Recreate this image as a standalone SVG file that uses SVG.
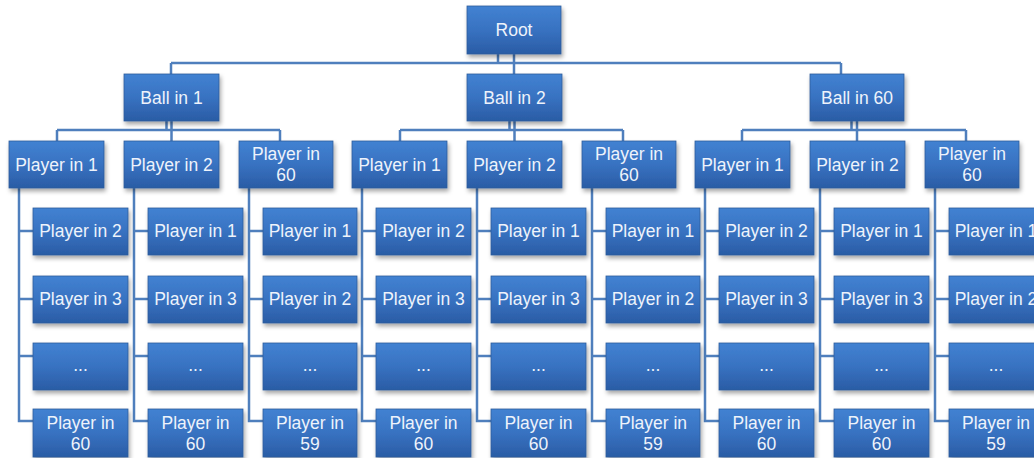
<svg xmlns="http://www.w3.org/2000/svg" width="1034" height="458" viewBox="0 0 1034 458">
<defs>
<linearGradient id="g" x1="0" y1="0" x2="0" y2="1">
<stop offset="0" stop-color="#4282d2"/>
<stop offset="0.5" stop-color="#3872c1"/>
<stop offset="1" stop-color="#2a5ca5"/>
</linearGradient>
<filter id="sh" x="-10%" y="-10%" width="125%" height="135%">
<feDropShadow dx="1.5" dy="3" stdDeviation="2" flood-color="#000" flood-opacity="0.35"/>
</filter>
</defs>
<style>
.b{fill:url(#g);stroke:#2d5c9c;stroke-width:0.8;filter:url(#sh)}
.t{font-family:"Liberation Sans",Arial,sans-serif;font-size:17.5px;fill:#eef3fb;text-anchor:middle}
.c{stroke:#4f7fbd;stroke-width:2.5;fill:none}
</style>
<rect width="1034" height="458" fill="#fff"/>
<g id="connectors" class="c">
<path d="M498 54V63M514 54V74M171 63H841M171 63V74M841 63V74"/>
<path d="M166.5 121V130M171.5 121V141M57 130H280M57 130V141M280 130V141"/>
<path d="M509.5 121V130M514.5 121V141M400 130H623M400 130V141M623 130V141"/>
<path d="M851.5 121V130M857 121V141M742 130H966M742 130V141M966 130V141"/>
<path d="M19 188V421H33M19 231H33M19 299H33M19 356H33"/>
<path d="M134 188V421H148M134 231H148M134 299H148M134 356H148"/>
<path d="M249 188V421H263M249 231H263M249 299H263M249 356H263"/>
<path d="M362 188V421H376M362 231H376M362 299H376M362 356H376"/>
<path d="M477 188V421H491M477 231H491M477 299H491M477 356H491"/>
<path d="M592 188V421H606M592 231H606M592 299H606M592 356H606"/>
<path d="M705 188V421H719M705 231H719M705 299H719M705 356H719"/>
<path d="M820 188V421H834M820 231H834M820 299H834M820 356H834"/>
<path d="M935 188V421H949M935 231H949M935 299H949M935 356H949"/>
</g>
<g id="root"><rect class="b" x="467" y="6" width="94" height="48"/><text class="t" x="514" y="36">Root</text></g>
<g id="ball1"><rect class="b" x="124" y="74" width="95" height="47"/><text class="t" x="171.5" y="104">Ball in 1</text></g>
<g id="ball2"><rect class="b" x="467" y="74" width="95" height="47"/><text class="t" x="514.5" y="104">Ball in 2</text></g>
<g id="ball60"><rect class="b" x="810" y="74" width="94" height="47"/><text class="t" x="857" y="104">Ball in 60</text></g>

<g id="b1p1"><rect class="b" x="9" y="141" width="95" height="47"/><text class="t" x="56.5" y="171">Player in 1</text></g>
<g id="b1p2"><rect class="b" x="124" y="141" width="95" height="47"/><text class="t" x="171.5" y="171">Player in 2</text></g>
<g id="b1p60"><rect class="b" x="239" y="141" width="94" height="47"/><text class="t" x="286" y="160">Player in</text><text class="t" x="286" y="181">60</text></g>
<g id="b2p1"><rect class="b" x="352" y="141" width="95" height="47"/><text class="t" x="399.5" y="171">Player in 1</text></g>
<g id="b2p2"><rect class="b" x="467" y="141" width="95" height="47"/><text class="t" x="514.5" y="171">Player in 2</text></g>
<g id="b2p60"><rect class="b" x="582" y="141" width="94" height="47"/><text class="t" x="629" y="160">Player in</text><text class="t" x="629" y="181">60</text></g>
<g id="b3p1"><rect class="b" x="695" y="141" width="95" height="47"/><text class="t" x="742.5" y="171">Player in 1</text></g>
<g id="b3p2"><rect class="b" x="810" y="141" width="95" height="47"/><text class="t" x="857.5" y="171">Player in 2</text></g>
<g id="b3p60"><rect class="b" x="925" y="141" width="94" height="47"/><text class="t" x="972" y="160">Player in</text><text class="t" x="972" y="181">60</text></g>

<!-- group 1 leaves -->
<g id="b1p1l1"><rect class="b" x="33" y="208" width="95" height="47"/><text class="t" x="80.5" y="237">Player in 2</text></g>
<g id="b1p1l2"><rect class="b" x="33" y="276" width="95" height="47"/><text class="t" x="80.5" y="305">Player in 3</text></g>
<g id="b1p1l3"><rect class="b" x="33" y="343" width="95" height="47"/><text class="t" x="80.5" y="371">...</text></g>
<g id="b1p1l4"><rect class="b" x="33" y="409" width="95" height="48"/><text class="t" x="80.5" y="429">Player in</text><text class="t" x="80.5" y="450">60</text></g>
<g id="b1p2l1"><rect class="b" x="148" y="208" width="95" height="47"/><text class="t" x="195.5" y="237">Player in 1</text></g>
<g id="b1p2l2"><rect class="b" x="148" y="276" width="95" height="47"/><text class="t" x="195.5" y="305">Player in 3</text></g>
<g id="b1p2l3"><rect class="b" x="148" y="343" width="95" height="47"/><text class="t" x="195.5" y="371">...</text></g>
<g id="b1p2l4"><rect class="b" x="148" y="409" width="95" height="48"/><text class="t" x="195.5" y="429">Player in</text><text class="t" x="195.5" y="450">60</text></g>
<g id="b1p60l1"><rect class="b" x="263" y="208" width="94" height="47"/><text class="t" x="310" y="237">Player in 1</text></g>
<g id="b1p60l2"><rect class="b" x="263" y="276" width="94" height="47"/><text class="t" x="310" y="305">Player in 2</text></g>
<g id="b1p60l3"><rect class="b" x="263" y="343" width="94" height="47"/><text class="t" x="310" y="371">...</text></g>
<g id="b1p60l4"><rect class="b" x="263" y="409" width="94" height="48"/><text class="t" x="310" y="429">Player in</text><text class="t" x="310" y="450">59</text></g>

<!-- group 2 leaves -->
<g id="b2p1l1"><rect class="b" x="376" y="208" width="95" height="47"/><text class="t" x="423.5" y="237">Player in 2</text></g>
<g id="b2p1l2"><rect class="b" x="376" y="276" width="95" height="47"/><text class="t" x="423.5" y="305">Player in 3</text></g>
<g id="b2p1l3"><rect class="b" x="376" y="343" width="95" height="47"/><text class="t" x="423.5" y="371">...</text></g>
<g id="b2p1l4"><rect class="b" x="376" y="409" width="95" height="48"/><text class="t" x="423.5" y="429">Player in</text><text class="t" x="423.5" y="450">60</text></g>
<g id="b2p2l1"><rect class="b" x="491" y="208" width="95" height="47"/><text class="t" x="538.5" y="237">Player in 1</text></g>
<g id="b2p2l2"><rect class="b" x="491" y="276" width="95" height="47"/><text class="t" x="538.5" y="305">Player in 3</text></g>
<g id="b2p2l3"><rect class="b" x="491" y="343" width="95" height="47"/><text class="t" x="538.5" y="371">...</text></g>
<g id="b2p2l4"><rect class="b" x="491" y="409" width="95" height="48"/><text class="t" x="538.5" y="429">Player in</text><text class="t" x="538.5" y="450">60</text></g>
<g id="b2p60l1"><rect class="b" x="606" y="208" width="94" height="47"/><text class="t" x="653" y="237">Player in 1</text></g>
<g id="b2p60l2"><rect class="b" x="606" y="276" width="94" height="47"/><text class="t" x="653" y="305">Player in 2</text></g>
<g id="b2p60l3"><rect class="b" x="606" y="343" width="94" height="47"/><text class="t" x="653" y="371">...</text></g>
<g id="b2p60l4"><rect class="b" x="606" y="409" width="94" height="48"/><text class="t" x="653" y="429">Player in</text><text class="t" x="653" y="450">59</text></g>

<!-- group 3 leaves -->
<g id="b3p1l1"><rect class="b" x="719" y="208" width="95" height="47"/><text class="t" x="766.5" y="237">Player in 2</text></g>
<g id="b3p1l2"><rect class="b" x="719" y="276" width="95" height="47"/><text class="t" x="766.5" y="305">Player in 3</text></g>
<g id="b3p1l3"><rect class="b" x="719" y="343" width="95" height="47"/><text class="t" x="766.5" y="371">...</text></g>
<g id="b3p1l4"><rect class="b" x="719" y="409" width="95" height="48"/><text class="t" x="766.5" y="429">Player in</text><text class="t" x="766.5" y="450">60</text></g>
<g id="b3p2l1"><rect class="b" x="834" y="208" width="95" height="47"/><text class="t" x="881.5" y="237">Player in 1</text></g>
<g id="b3p2l2"><rect class="b" x="834" y="276" width="95" height="47"/><text class="t" x="881.5" y="305">Player in 3</text></g>
<g id="b3p2l3"><rect class="b" x="834" y="343" width="95" height="47"/><text class="t" x="881.5" y="371">...</text></g>
<g id="b3p2l4"><rect class="b" x="834" y="409" width="95" height="48"/><text class="t" x="881.5" y="429">Player in</text><text class="t" x="881.5" y="450">60</text></g>
<g id="b3p60l1"><rect class="b" x="949" y="208" width="94" height="47"/><text class="t" x="996" y="237">Player in 1</text></g>
<g id="b3p60l2"><rect class="b" x="949" y="276" width="94" height="47"/><text class="t" x="996" y="305">Player in 2</text></g>
<g id="b3p60l3"><rect class="b" x="949" y="343" width="94" height="47"/><text class="t" x="996" y="371">...</text></g>
<g id="b3p60l4"><rect class="b" x="949" y="409" width="94" height="48"/><text class="t" x="996" y="429">Player in</text><text class="t" x="996" y="450">59</text></g>
</svg>
